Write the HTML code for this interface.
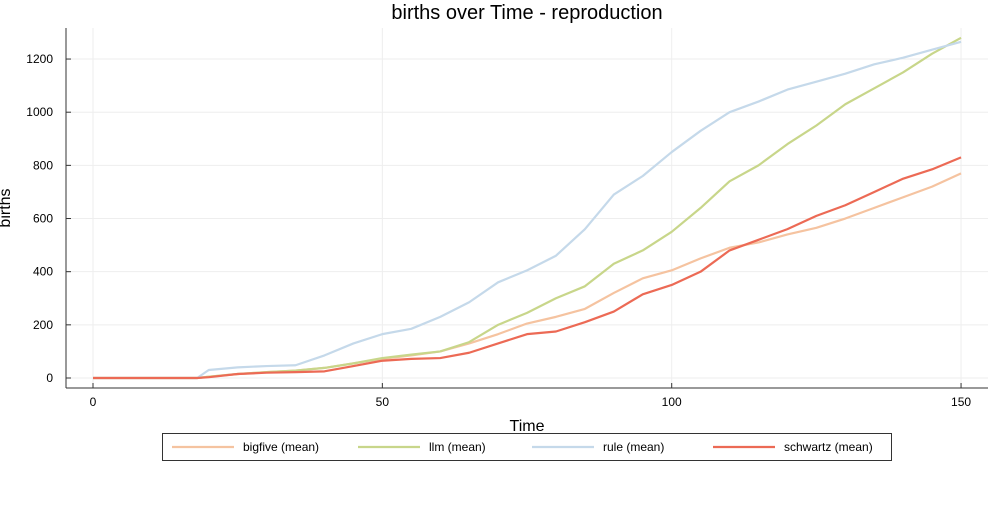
<!DOCTYPE html>
<html><head><meta charset="utf-8"><style>
body{margin:0;background:#fff;font-family:"Liberation Sans",sans-serif}
svg text{font-family:"Liberation Sans",sans-serif}
</style></head><body>
<svg id="chart" width="1000" height="500">
<text x="527" y="19" text-anchor="middle" font-size="20">births over Time - reproduction</text>
<g id="grid"></g>
<g id="series"></g>
<g id="axes"></g>
<text x="527" y="431" text-anchor="middle" font-size="16">Time</text>
<text transform="translate(10,208) rotate(-90)" text-anchor="middle" font-size="16">births</text>
<g id="legend"></g>
</svg>
<script>
const times=[0,5,10,15,18,20,25,30,35,40,45,50,55,60,65,70,75,80,85,90,95,100,105,110,115,120,125,130,135,140,145,150];
const bigfive=[0,0,0,0,0,5,15,22,28,38,55,72,85,100,130,165,205,230,260,320,375,405,450,490,510,540,565,600,640,680,720,770];
const llm=[0,0,0,0,0,5,15,22,28,38,55,75,88,100,135,200,245,300,345,430,480,550,640,740,800,880,950,1030,1090,1150,1220,1280];
const rule=[0,0,0,0,0,30,40,45,48,85,130,165,185,230,285,360,405,460,560,690,760,850,930,1000,1040,1085,1115,1145,1180,1205,1235,1265];
const schwartz=[0,0,0,0,0,3,15,20,22,25,45,65,72,75,95,130,165,175,210,250,315,350,400,480,520,560,610,650,700,750,785,830];
const xTicks=[0,50,100,150];
const yTicks=[0,200,400,600,800,1000,1200];
const seriesNames=["bigfive (mean)","llm (mean)","rule (mean)","schwartz (mean)"];
const colors=["#f5c3a0","#c8d68a","#c5d9ea","#ec6a55"];
const X=t=>93+t*5.787, Y=v=>378-v*0.2658;
const NS="http://www.w3.org/2000/svg";
function mk(tag,attrs,parent){const e=document.createElementNS(NS,tag);for(const k in attrs)e.setAttribute(k,attrs[k]);parent.appendChild(e);return e;}
const grid=document.getElementById('grid'),axes=document.getElementById('axes'),ser=document.getElementById('series'),leg=document.getElementById('legend');
xTicks.forEach(t=>{
 const g=mk('line',{x1:X(t),x2:X(t),y1:28,y2:388,stroke:'#eee'},grid);
 
 
 mk('line',{x1:X(t),x2:X(t),y1:388,y2:383,stroke:'#333'},axes);
 const l=mk('text',{x:X(t),y:406,'text-anchor':'middle','font-size':12},axes);l.textContent=t;
 
 
});
yTicks.forEach(v=>{
 const g=mk('line',{x1:66,x2:988,y1:Y(v),y2:Y(v),stroke:'#eee'},grid);
 
 
 mk('line',{x1:66,x2:71,y1:Y(v),y2:Y(v),stroke:'#333'},axes);
 const l=mk('text',{x:53,y:Y(v)+4,'text-anchor':'end','font-size':12},axes);l.textContent=v;
 
 
});
mk('line',{x1:66,x2:66,y1:28,y2:388,stroke:'#333'},axes);
mk('line',{x1:66,x2:988,y1:388,y2:388,stroke:'#333'},axes);
[bigfive,llm,rule,schwartz].forEach((d,i)=>{
 const p=mk('polyline',{points:d.map((v,j)=>X(times[j])+','+Y(v)).join(' '),fill:'none',stroke:colors[i],'stroke-width':2.2,'stroke-linejoin':'round'},ser);
 
 
});
mk('rect',{x:162.5,y:433.5,width:729,height:27,fill:'#fff',stroke:'#333'},leg);
const lx=[172,358,532,713];
seriesNames.forEach((n,i)=>{
 const g=mk('g',{},leg);
 
 
 mk('line',{x1:lx[i],x2:lx[i]+62,y1:447,y2:447,stroke:colors[i],'stroke-width':2.2},g);
 const t=mk('text',{x:lx[i]+71,y:451,'font-size':12},g);t.textContent=n;
});
</script>
</body></html>
